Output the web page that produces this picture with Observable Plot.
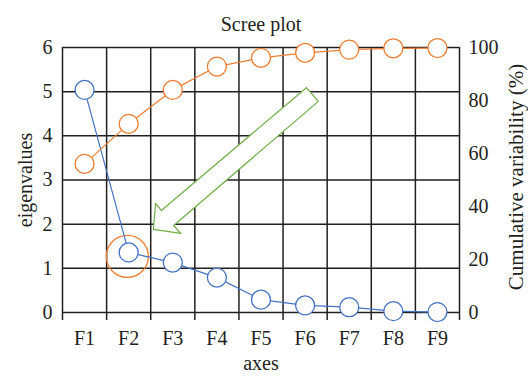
<!DOCTYPE html>
<html>
<head>
<meta charset="utf-8">
<script src="https://cdn.jsdelivr.net/npm/d3@7"></script>
<script src="https://cdn.jsdelivr.net/npm/@observablehq/plot@0.6"></script>
<style>
  html, body { margin: 0; padding: 0; background: #fff; }
  svg { display: block; }
</style>
</head>
<body>
<div id="chart"></div>
<script>
// ---- data ----
const axesLabels = ["F1", "F2", "F3", "F4", "F5", "F6", "F7", "F8", "F9"];
const eigenvalues = [5.04, 1.36, 1.13, 0.79, 0.29, 0.16, 0.12, 0.03, 0.01];
const cumulative = [56.1, 71.2, 84.0, 92.8, 96.1, 98.0, 99.2, 99.7, 99.8];
const eigenTicks = [0, 1, 2, 3, 4, 5, 6];
const pctTicks = [0, 20, 40, 60, 80, 100];
// annotation: highlight circle around F2 (axis index, eigenvalue)
const highlight = [{ x: 1.97, y: 1.27 }];
// annotation: hollow arrow outline (axis index, eigenvalue units)
const arrowPts = [
  [6.03, 5.09], [6.30, 4.78], [3.02, 1.97], [3.18, 1.79],
  [2.56, 1.88], [2.61, 2.47], [2.74, 2.31], [6.03, 5.09]
];

const yMax = 6, pctMax = 100;
const idx = axesLabels.map((_, i) => i + 1);
const bounds = d3.range(0, axesLabels.length + 1).map(i => i + 0.5);
const eigData = idx.map((x, i) => ({ x, y: eigenvalues[i] }));
const cumData = idx.map((x, i) => ({ x, y: cumulative[i] * yMax / pctMax }));

const blue = "#4472C4", orange = "#ED7D31", green = "#70AD47", ink = "#231f20";
const font = "Liberation Serif, Times New Roman, serif";
const fs = 20;

const chart = Plot.plot({
  width: 528,
  height: 379,
  marginLeft: 62,
  marginRight: 69,
  marginTop: 47,
  marginBottom: 67,
  style: { fontFamily: font, fontSize: fs + "px", color: ink, background: "#fff" },
  x: { type: "linear", domain: [0.5, axesLabels.length + 0.5] },
  y: { domain: [0, yMax] },
  marks: [
    Plot.gridX(bounds, { stroke: ink, strokeOpacity: 1, strokeWidth: 1.5 }),
    Plot.gridY(eigenTicks, { stroke: ink, strokeOpacity: 1, strokeWidth: 1.5 }),
    Plot.axisX(bounds, { tickSize: 8, tickFormat: () => "", stroke: ink, strokeWidth: 1.5, label: null }),
    Plot.axisX(idx, { tickSize: 0, tickPadding: 18, tickFormat: d => axesLabels[d - 1], fontSize: fs, label: null }),
    Plot.axisY(eigenTicks, { anchor: "left", tickSize: 0, tickPadding: 10, fontSize: fs, label: null }),
    Plot.axisY(pctTicks.map(p => p * yMax / pctMax), {
      anchor: "right", tickSize: 0, tickPadding: 9, fontSize: fs, label: null,
      tickFormat: d => Math.round(d * pctMax / yMax)
    }),
    // hollow arrow
    Plot.line(arrowPts, { x: d => d[0], y: d => d[1], stroke: green, strokeWidth: 1.2, fill: "white", curve: "linear" }),
    // highlight circle
    Plot.dot(highlight, { x: "x", y: "y", r: 21, stroke: orange, strokeWidth: 1.3, fill: "none" }),
    // eigenvalues
    Plot.line(eigData, { x: "x", y: "y", stroke: blue, strokeWidth: 1.2 }),
    Plot.dot(eigData, { x: "x", y: "y", r: 9.5, stroke: blue, strokeWidth: 1.3, fill: "white" }),
    // cumulative variability
    Plot.line(cumData, { x: "x", y: "y", stroke: orange, strokeWidth: 1.2 }),
    Plot.dot(cumData, { x: "x", y: "y", r: 9.5, stroke: orange, strokeWidth: 1.3, fill: "white" }),
    // texts
    Plot.text(["Scree plot"], { frameAnchor: "top", dy: -31, fontSize: fs, fill: ink }),
    Plot.text(["axes"], { frameAnchor: "bottom", dy: 57, fontSize: fs, fill: ink }),
    Plot.text(["eigenvalues"], { frameAnchor: "left", dx: -37, rotate: -90, textAnchor: "middle", lineAnchor: "middle", fontSize: fs, fill: ink }),
    Plot.text(["Cumulative variability (%)"], { frameAnchor: "right", dx: 57, dy: -3, rotate: -90, textAnchor: "middle", lineAnchor: "middle", fontSize: 21, fill: ink })
  ]
});
document.getElementById("chart").appendChild(chart);
</script>
</body>
</html>
